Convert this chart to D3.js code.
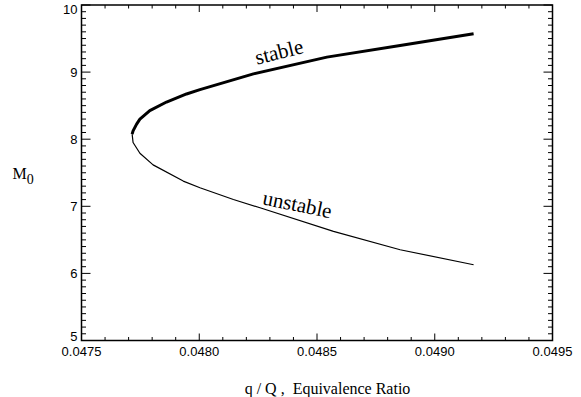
<!DOCTYPE html>
<html><head><meta charset="utf-8">
<script src="https://cdn.jsdelivr.net/npm/d3@7/dist/d3.min.js"></script>
<style>body{margin:0;background:#fff}svg{display:block}
.serif{font-family:"Liberation Serif","DejaVu Serif","Times New Roman",serif}
.sans{font-family:"Liberation Sans",Arial,Helvetica,sans-serif}</style>
</head><body><svg id="c" width="581" height="397"></svg>
<script>
const xTickValues = [0.0475, 0.0480, 0.0485, 0.0490, 0.0495];
const yTickValues = [5, 6, 7, 8, 9, 10];
const stableX = [0.047715, 0.047719, 0.047734, 0.047748, 0.047790, 0.047861, 0.047946, 0.048003, 0.048230, 0.048542, 0.048853, 0.049165];
const stableY = [8.075, 8.124, 8.225, 8.299, 8.427, 8.554, 8.674, 8.738, 8.973, 9.223, 9.397, 9.572];
const unstableX = [0.047715, 0.047719, 0.047748, 0.047804, 0.047932, 0.048003, 0.048145, 0.048258, 0.048570, 0.048853, 0.049165];
const unstableY = [8.075, 7.951, 7.790, 7.617, 7.376, 7.277, 7.102, 6.978, 6.627, 6.353, 6.129];
const curveLabels = [
  {text: "stable", x: 0.048245, y: 9.11, angle: -14},
  {text: "unstable", x: 0.048265, y: 7.03, angle: 11.5}
];

const svg = d3.select("#c");
const L = 81.5, R = 552.5, T = 5, B = 340.5;
const x = d3.scaleLinear().domain([0.0475, 0.0495]).range([L, R]);
const y = d3.scaleLinear().domain([5, 10]).range([B, T]);

const g = svg.append("g");
const xMinor = x.ticks(20), yMinor = y.ticks(50);
const isMajX = v => xTickValues.some(t => Math.abs(t - v) < 1e-9);
const isMajY = v => yTickValues.some(t => Math.abs(t - v) < 1e-9);
xMinor.forEach(v => {
  const len = isMajX(v) ? 7 : 3.5;
  g.append("line").attr("x1", x(v)).attr("x2", x(v)).attr("y1", B).attr("y2", B - len).attr("stroke", "#000").attr("stroke-width", 1);
  g.append("line").attr("x1", x(v)).attr("x2", x(v)).attr("y1", T).attr("y2", T + len).attr("stroke", "#000").attr("stroke-width", 1);
});
yMinor.forEach(v => {
  const len = isMajY(v) ? 9 : 4.5;
  g.append("line").attr("y1", y(v)).attr("y2", y(v)).attr("x1", L).attr("x2", L + len).attr("stroke", "#000").attr("stroke-width", 1);
  g.append("line").attr("y1", y(v)).attr("y2", y(v)).attr("x1", R).attr("x2", R - len).attr("stroke", "#000").attr("stroke-width", 1);
});
g.append("rect").attr("x", L).attr("y", T).attr("width", R - L).attr("height", B - T)
  .attr("fill", "none").attr("stroke", "#000").attr("stroke-width", 1.5);

const fx = d3.format(".4f"), fy = d3.format("d");
g.selectAll(".xl").data(xTickValues).enter().append("text").attr("class", "sans")
  .attr("x", d => x(d)).attr("y", 356.3).attr("text-anchor", "middle")
  .attr("font-size", 13).text(fx);
g.selectAll(".yl").data(yTickValues).enter().append("text").attr("class", "sans")
  .attr("x", L - 4).attr("y", d => Math.min(Math.max(y(d), T + 4.5), B - 4) + 4.6)
  .attr("text-anchor", "end").attr("font-size", 13).text(fy);

const line = d3.line().x(d => x(d[0])).y(d => y(d[1]));
g.append("path").datum(d3.zip(unstableX, unstableY)).attr("d", line)
  .attr("fill", "none").attr("stroke", "#000").attr("stroke-width", 1.2).attr("stroke-linejoin", "round");
g.append("path").datum(d3.zip(stableX, stableY)).attr("d", line)
  .attr("fill", "none").attr("stroke", "#000").attr("stroke-width", 3).attr("stroke-linejoin", "round");

curveLabels.forEach(c => {
  g.append("text").attr("class", "serif")
    .attr("transform", `translate(${x(c.x)},${y(c.y)}) rotate(${c.angle})`)
    .attr("font-size", 21).text(c.text);
});

g.append("text").attr("class", "serif").attr("x", 327.5).attr("y", 393.5).attr("text-anchor", "middle")
  .attr("font-size", 16).attr("xml:space", "preserve").text("q / Q ,  Equivalence Ratio");
const yt = g.append("text").attr("class", "serif").attr("x", 12.5).attr("y", 178.5).attr("font-size", 16);
yt.append("tspan").text("M");
yt.append("tspan").attr("dy", 5).attr("font-size", 14).text("0");
</script></body></html>
